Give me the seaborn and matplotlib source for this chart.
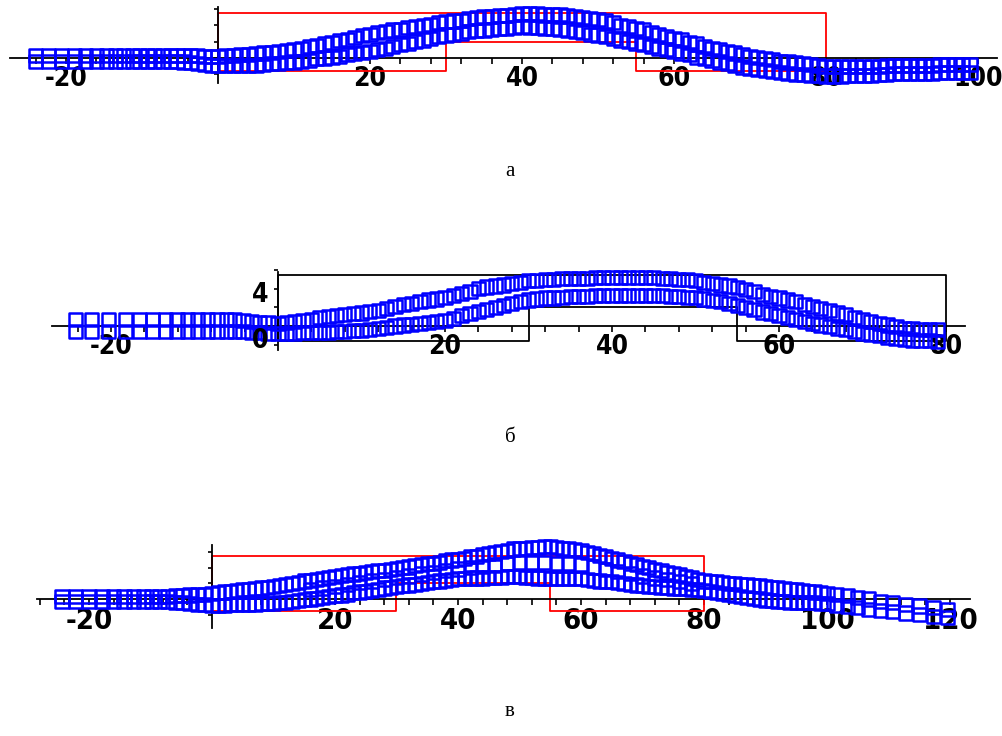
import matplotlib
matplotlib.use("Agg")
import matplotlib.pyplot as plt
from matplotlib.ticker import MultipleLocator, FuncFormatter
import pandas as pd
import seaborn as sns

# ---------------- panel а : particle positions (upper / lower row) ----------------
xa = [-24.0, -22.3, -20.6, -18.9, -17.4, -16.0, -14.7, -13.5, -12.4, -11.3,
      -10.3, -9.3, -8.3, -7.3, -6.3, -5.4, -4.5, -3.6, -2.7, -1.8, -0.9,
      0, 1, 2, 3, 4, 5, 6, 7, 8, 9,
      10, 11, 12, 13, 14, 15, 16, 17, 18, 19,
      20, 21, 22, 23, 24, 25, 26, 27, 28, 29,
      30, 31, 32, 33, 34, 35, 36, 37, 38, 39,
      40, 41, 42, 43, 44, 45, 46, 47, 48, 49,
      50, 51, 52, 53, 54, 55, 56, 57, 58, 59,
      60, 61, 62, 63, 64, 65, 66, 67, 68, 69,
      70, 71, 72, 73, 74, 75, 76, 77, 78, 79,
      80, 81, 82, 83, 84, 85, 86, 87, 88, 89,
      90, 91, 92, 93, 94, 95, 96, 97, 98, 99]
ya_top = [0.3, 0.3, 0.3, 0.3, 0.3, 0.3, 0.3, 0.3, 0.3, 0.3,
          0.3, 0.3, 0.3, 0.3, 0.3, 0.3, 0.3, 0.3, 0.25, 0.2, 0.2,
          0.2, 0.3, 0.3, 0.4, 0.4, 0.5, 0.6, 0.7, 0.8, 0.9,
          1.0, 1.2, 1.4, 1.5, 1.7, 1.9, 2.1, 2.3, 2.5, 2.7,
          2.9, 3.1, 3.2, 3.4, 3.5, 3.7, 3.8, 4.0, 4.1, 4.3,
          4.4, 4.5, 4.6, 4.8, 4.9, 5.0, 5.1, 5.2, 5.2, 5.3,
          5.4, 5.4, 5.4, 5.3, 5.3, 5.3, 5.2, 5.1, 4.9, 4.8,
          4.7, 4.5, 4.3, 4.0, 3.8, 3.6, 3.4, 3.1, 2.9, 2.6,
          2.4, 2.2, 1.9, 1.7, 1.4, 1.2, 1.0, 0.8, 0.6, 0.4,
          0.2, 0.1, -0.1, -0.2, -0.4, -0.5, -0.6, -0.7, -0.8, -0.9,
          -1.0, -1.0, -1.0, -1.0, -1.0, -1.0, -1.0, -1.0, -0.9, -0.9,
          -0.9, -0.9, -0.9, -0.9, -0.9, -0.8, -0.8, -0.8, -0.8, -0.8]
ya_bot = [-0.4, -0.4, -0.4, -0.4, -0.4, -0.4, -0.4, -0.4, -0.4, -0.4,
          -0.4, -0.4, -0.4, -0.4, -0.4, -0.4, -0.5, -0.6, -0.7, -0.8, -0.9,
          -0.9, -0.9, -0.9, -0.9, -0.9, -0.9, -0.8, -0.7, -0.7, -0.6,
          -0.5, -0.4, -0.3, -0.1, 0.0, 0.1, 0.2, 0.4, 0.5, 0.7,
          0.8, 1.0, 1.2, 1.4, 1.6, 1.8, 2.0, 2.2, 2.4, 2.6,
          2.8, 2.9, 3.0, 3.2, 3.3, 3.4, 3.5, 3.6, 3.6, 3.7,
          3.8, 3.7, 3.7, 3.6, 3.6, 3.5, 3.4, 3.2, 3.1, 2.9,
          2.8, 2.6, 2.4, 2.2, 2.0, 1.8, 1.6, 1.4, 1.2, 1.0,
          0.8, 0.6, 0.4, 0.1, -0.1, -0.3, -0.5, -0.7, -0.9, -1.1,
          -1.3, -1.4, -1.5, -1.7, -1.8, -1.9, -2.0, -2.0, -2.1, -2.1,
          -2.2, -2.2, -2.2, -2.1, -2.1, -2.1, -2.1, -2.0, -2.0, -1.9,
          -1.9, -1.9, -1.9, -1.9, -1.9, -1.8, -1.8, -1.8, -1.8, -1.8]

# ---------------- panel б ----------------
xb = [-24.3, -22.3, -20.3, -18.3, -16.6, -15.0, -13.5, -12.1, -10.8, -9.6,
      -8.4, -7.3, -6.2, -5.2, -4.2, -3.2, -2.2, -1.2,
      0, 1, 2, 3, 4, 5, 6, 7, 8, 9,
      10, 11, 12, 13, 14, 15, 16, 17, 18, 19,
      20, 21, 22, 23, 24, 25, 26, 27, 28, 29,
      30, 31, 32, 33, 34, 35, 36, 37, 38, 39,
      40, 41, 42, 43, 44, 45, 46, 47, 48, 49,
      50, 51, 52, 53, 54, 55, 56, 57, 58, 59,
      60, 61, 62, 63, 64, 65, 66, 67, 68, 69,
      70, 71, 72, 73, 74, 75, 76, 77, 78, 79]
yb_top = [0.7, 0.7, 0.7, 0.7, 0.7, 0.7, 0.7, 0.7, 0.7, 0.7,
          0.7, 0.7, 0.7, 0.7, 0.6, 0.5, 0.4, 0.35,
          0.3, 0.4, 0.5, 0.6, 0.7, 0.9, 1.0, 1.1, 1.2, 1.3,
          1.4, 1.6, 1.7, 1.9, 2.1, 2.3, 2.4, 2.6, 2.8, 2.9,
          3.1, 3.3, 3.5, 3.7, 4.0, 4.2, 4.3, 4.4, 4.6, 4.7,
          4.9, 4.9, 5.0, 5.0, 5.1, 5.1, 5.1, 5.1, 5.2, 5.2,
          5.2, 5.2, 5.2, 5.2, 5.2, 5.2, 5.1, 5.1, 5.0, 5.0,
          4.9, 4.7, 4.6, 4.4, 4.3, 4.1, 3.9, 3.7, 3.4, 3.2,
          3.0, 2.8, 2.6, 2.3, 2.1, 1.9, 1.7, 1.4, 1.2, 0.9,
          0.7, 0.5, 0.3, 0.1, -0.1, -0.3, -0.3, -0.4, -0.4, -0.4]
yb_bot = [-0.6, -0.6, -0.6, -0.6, -0.6, -0.6, -0.6, -0.6, -0.6, -0.6,
          -0.6, -0.6, -0.6, -0.6, -0.6, -0.7, -0.7, -0.8,
          -0.8, -0.8, -0.8, -0.7, -0.7, -0.7, -0.7, -0.6, -0.6, -0.5,
          -0.5, -0.4, -0.3, -0.2, 0.0, 0.1, 0.2, 0.3, 0.4, 0.5,
          0.6, 0.8, 1.1, 1.3, 1.6, 1.8, 2.0, 2.2, 2.4, 2.6,
          2.8, 2.9, 3.0, 3.0, 3.1, 3.2, 3.2, 3.2, 3.3, 3.3,
          3.3, 3.3, 3.3, 3.3, 3.3, 3.3, 3.3, 3.2, 3.2, 3.1,
          3.1, 2.9, 2.7, 2.6, 2.4, 2.2, 2.0, 1.8, 1.5, 1.3,
          1.1, 0.9, 0.7, 0.5, 0.3, 0.1, -0.1, -0.3, -0.4, -0.6,
          -0.8, -0.9, -1.0, -1.2, -1.3, -1.4, -1.5, -1.6, -1.6, -1.7]

# ---------------- panel в ----------------
xc = [-24.4, -22.2, -20.0, -17.9, -16.0, -14.3, -12.7, -11.2, -9.8, -8.5,
      -7.2, -6.0, -4.8, -3.6, -2.4, -1.2,
      0, 1, 2, 3, 4, 5, 6, 7, 8, 9,
      10, 11, 12, 13, 14, 15, 16, 17, 18, 19,
      20, 21, 22, 23, 24, 25, 26, 27, 28, 29,
      30, 31, 32, 33, 34, 35, 36, 37, 38, 39,
      40, 41, 42, 43, 44, 45, 46, 47, 48, 49,
      50, 51, 52, 53, 54, 55, 56, 57, 58, 59,
      60, 61, 62, 63, 64, 65, 66, 67, 68, 69,
      70, 71, 72, 73, 74, 75, 76, 77, 78, 79,
      80, 81, 82, 83, 84, 85, 86, 87, 88, 89,
      90, 91, 92, 93, 94, 95, 96, 97, 98, 99, 100,
      101.6, 103.3, 105.0, 106.8, 108.7, 110.7, 112.8, 115.0, 117.3, 119.6]
yc_top = [0.3, 0.3, 0.3, 0.3, 0.3, 0.3, 0.3, 0.3, 0.3, 0.3,
          0.3, 0.4, 0.4, 0.5, 0.6, 0.6,
          0.7, 0.8, 0.9, 1.0, 1.1, 1.2, 1.2, 1.3, 1.4, 1.5,
          1.6, 1.7, 1.9, 2.0, 2.1, 2.3, 2.4, 2.5, 2.6, 2.8,
          2.9, 3.0, 3.1, 3.2, 3.3, 3.4, 3.5, 3.6, 3.7, 3.8,
          3.9, 4.0, 4.1, 4.3, 4.4, 4.5, 4.6, 4.7, 4.9, 5.0,
          5.1, 5.2, 5.4, 5.5, 5.7, 5.8, 5.9, 6.1, 6.2, 6.4,
          6.5, 6.5, 6.6, 6.6, 6.7, 6.7, 6.6, 6.5, 6.4, 6.3,
          6.2, 6.0, 5.8, 5.6, 5.4, 5.2, 5.0, 4.8, 4.6, 4.4,
          4.2, 4.0, 3.8, 3.6, 3.4, 3.3, 3.1, 2.9, 2.7, 2.5,
          2.3, 2.2, 2.2, 2.1, 2.0, 2.0, 1.9, 1.8, 1.7, 1.7,
          1.6, 1.5, 1.4, 1.3, 1.2, 1.2, 1.1, 1.0, 0.9, 0.8, 0.7,
          0.6, 0.4, 0.2, 0.0, -0.3, -0.5, -0.7, -0.9, -1.1, -1.3]
yc_bot = [-0.3, -0.3, -0.3, -0.3, -0.3, -0.3, -0.3, -0.3, -0.3, -0.3,
          -0.3, -0.4, -0.5, -0.6, -0.7, -0.7,
          -0.8, -0.8, -0.8, -0.7, -0.7, -0.7, -0.7, -0.7, -0.6, -0.6,
          -0.6, -0.5, -0.4, -0.3, -0.2, -0.1, 0.0, 0.1, 0.2, 0.3,
          0.4, 0.5, 0.6, 0.8, 0.9, 1.0, 1.1, 1.2, 1.4, 1.5,
          1.6, 1.7, 1.8, 1.9, 2.0, 2.1, 2.2, 2.3, 2.4, 2.5,
          2.6, 2.6, 2.7, 2.7, 2.7, 2.8, 2.8, 2.8, 2.9, 2.9,
          2.9, 2.8, 2.8, 2.7, 2.7, 2.6, 2.6, 2.6, 2.6, 2.6,
          2.6, 2.5, 2.4, 2.3, 2.2, 2.2, 2.1, 2.0, 1.9, 1.8,
          1.7, 1.6, 1.6, 1.5, 1.5, 1.4, 1.3, 1.3, 1.2, 1.2,
          1.1, 1.0, 0.8, 0.7, 0.6, 0.5, 0.3, 0.2, 0.1, -0.1,
          -0.2, -0.2, -0.3, -0.3, -0.4, -0.4, -0.4, -0.5, -0.5, -0.6, -0.6,
          -0.8, -1.0, -1.1, -1.3, -1.5, -1.6, -1.8, -2.0, -2.2, -2.4]
# middle row of panel в, where the layer is thick
xc_mid = [16, 18, 20, 22, 24, 26, 28, 30, 32, 34, 36, 38, 40, 42, 44, 46,
          48, 50, 52, 54, 56, 58, 60, 62, 64, 66, 68, 70, 72, 74, 76, 78]
yc_mid = [1.2, 1.4, 1.65, 1.85, 2.1, 2.3, 2.55, 2.75, 2.95, 3.2, 3.4, 3.65,
          3.85, 4.05, 4.2, 4.35, 4.55, 4.7, 4.7, 4.7, 4.6, 4.5, 4.4, 4.1,
          3.8, 3.55, 3.25, 2.95, 2.7, 2.45, 2.2, 1.95]

# outline of the initial layer (same in all three panels)
frame_x = [0, 30, 30, 55, 55, 80, 80, 0, 0]
frame_y = [-1.6, -1.6, 2, 2, -1.6, -1.6, 5.5, 5.5, -1.6]

panel_names = ["а", "б", "в"]

sns.set_theme(style="white")
plt.rcParams["font.family"] = ["DejaVu Sans Condensed", "DejaVu Sans"]
plt.rcParams["font.stretch"] = "condensed"
plt.rcParams["font.weight"] = "bold"
plt.rcParams["axes.unicode_minus"] = False

W, H = 1003, 736
fig = plt.figure(figsize=(W / 100, H / 100), dpi=100)


def add_ax(left, top, width, height):
    return fig.add_axes([left / W, 1 - (top + height) / H, width / W, height / H])


def draw_panel(ax, xs, ys, frame_color, xlim, ylim, xbounds, ybounds, fsize):
    df = pd.DataFrame({"x": sum(xs, []), "y": sum(ys, [])})
    ax.plot(frame_x, frame_y, color=frame_color, lw=1.3, zorder=2, clip_on=False)
    sns.scatterplot(data=df, x="x", y="y", marker="s", s=90, facecolor="none",
                    edgecolor="blue", linewidth=1.8, ax=ax, zorder=3,
                    clip_on=False, legend=False)
    ax.set(xlim=xlim, ylim=ylim, xlabel="", ylabel="")
    ax.patch.set_alpha(0)
    for side in ["top", "right"]:
        ax.spines[side].set_visible(False)
    for side in ["left", "bottom"]:
        ax.spines[side].set_position(("data", 0))
        ax.spines[side].set_color("black")
        ax.spines[side].set_linewidth(1.3)
    ax.spines["bottom"].set_bounds(*xbounds)
    ax.spines["left"].set_bounds(*ybounds)
    ax.xaxis.set_major_locator(MultipleLocator(20))
    ax.xaxis.set_minor_locator(MultipleLocator(4))
    ax.xaxis.set_major_formatter(FuncFormatter(lambda v, p: "" if v == 0 else "%d" % v))
    ax.yaxis.set_major_locator(MultipleLocator(2))
    ax.yaxis.set_major_formatter(FuncFormatter(lambda v, p: ""))
    ax.tick_params(axis="x", which="both", direction="out", length=4.5, width=1.2,
                   color="black", pad=1.5, labelsize=fsize, labelcolor="black")
    ax.tick_params(axis="y", which="both", direction="out", length=3, width=1.2,
                   color="black")
    ax.tick_params(axis="both", which="both", bottom=True, left=True)


# panel а
ax1 = add_ax(6.7, 5.5, 994.1, 79.5)
draw_panel(ax1, [xa, xa], [ya_top, ya_bot], "red", (-27.8, 103), (-3.3, 6.4),
           (-27.4, 102.5), (-3.05, 6.2), 19)

# panel б
ax2 = add_ax(48.4, 270.2, 922.7, 81.8)
draw_panel(ax2, [xb, xb], [yb_top, yb_bot], "black", (-27.5, 83), (-2.8, 6.0),
           (-27.1, 82.3), (-2.6, 5.8), 19)
ax2.text(-1.2, 3.35, "4", ha="right", va="center", fontsize=19, color="black")
ax2.text(-1.2, -1.6, "0", ha="right", va="center", fontsize=19, color="black")

# panel в
ax3 = add_ax(33.65, 544.4, 939.7, 84.2)
draw_panel(ax3, [xc, xc, xc_mid], [yc_top, yc_bot, yc_mid], "red", (-29, 123.8),
           (-3.8, 7.0), (-28.5, 123.3), (-3.7, 6.9), 21)

for name, ypix in zip(panel_names, [172, 437, 712]):
    fig.text(510 / W, 1 - ypix / H, name, ha="center", va="center", fontsize=15,
             family="Liberation Serif", fontweight="normal", fontstretch="normal",
             color="black")

fig.savefig("out.png", dpi=100)
